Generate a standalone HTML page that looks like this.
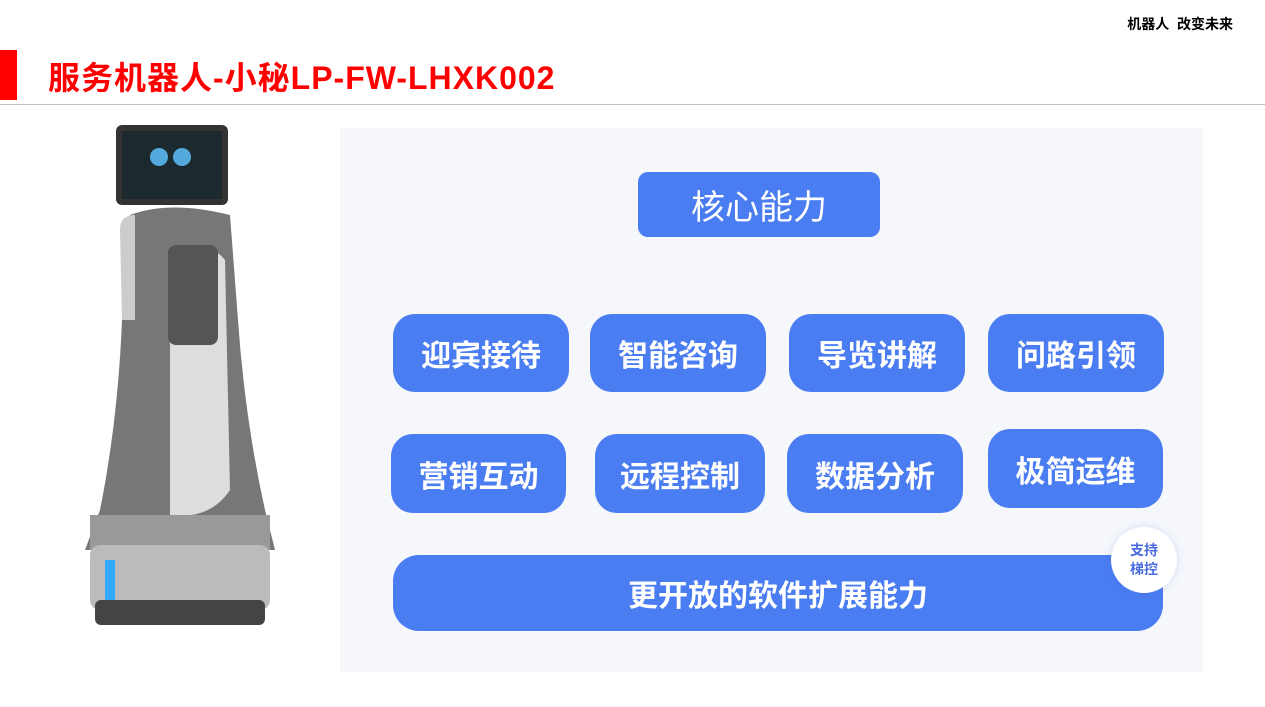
<!DOCTYPE html>
<html><head><meta charset="utf-8"><style>
*{margin:0;padding:0;box-sizing:border-box}
body{width:1265px;height:707px;background:#fff;position:relative;overflow:hidden;font-family:"Liberation Sans","Noto Sans CJK SC",sans-serif}
.a{position:absolute}
.p{position:absolute;background:#4a7cf2;color:#fff;border-radius:22px;display:flex;align-items:center;justify-content:center;font-size:30px;font-weight:bold}
</style></head><body>
<div class="a" style="right:32px;top:14px;font-size:14px;font-weight:bold;color:#000">机器人&nbsp; 改变未来</div>
<div class="a" style="left:0;top:50px;width:17px;height:50px;background:#f00"></div>
<div class="a" style="left:48px;top:58px;font-size:32px;font-weight:bold;color:#f00;line-height:40px;letter-spacing:1px">服务机器人-小秘LP-FW-LHXK002</div>
<div class="a" style="left:0;top:104px;width:1265px;height:1px;background:#c0c0c0"></div>
<!-- robot -->
<svg class="a" style="left:60px;top:120px" width="240" height="560">
<rect x="56" y="5" width="112" height="80" rx="6" fill="#333"/>
<rect x="62" y="11" width="100" height="68" fill="#1c2a30"/>
<circle cx="99" cy="37" r="9" fill="#5ad"/><circle cx="122" cy="37" r="9" fill="#5ad"/>
<path d="M70 95 Q110 80 170 95 L178 200 Q185 300 205 390 L215 430 L25 430 L40 390 Q58 300 62 200 Z" fill="#777"/>
<path d="M110 130 Q150 120 165 140 L170 370 Q150 400 110 395 Z" fill="#ddd"/>
<rect x="108" y="125" width="50" height="100" rx="8" fill="#555"/>
<path d="M60 110 Q60 95 75 95 L75 200 L62 200 Z" fill="#ccc"/>
<path d="M30 395 L210 395 L210 430 Q120 445 30 430 Z" fill="#999"/>
<rect x="30" y="425" width="180" height="65" rx="10" fill="#bbb"/>
<rect x="35" y="480" width="170" height="25" rx="6" fill="#444"/>
<rect x="45" y="440" width="10" height="40" fill="#3af"/>
</svg>
<div class="a" style="left:340px;top:128px;width:863px;height:544px;background:#f5f7fb"></div>
<div class="p" style="left:638px;top:172px;width:242px;height:65px;border-radius:10px;font-weight:normal;font-size:34px">核心能力</div>
<div class="p" style="left:393px;top:314px;width:176px;height:78px">迎宾接待</div>
<div class="p" style="left:590px;top:314px;width:176px;height:78px">智能咨询</div>
<div class="p" style="left:789px;top:314px;width:176px;height:78px">导览讲解</div>
<div class="p" style="left:988px;top:314px;width:176px;height:78px">问路引领</div>
<div class="p" style="left:391px;top:434px;width:175px;height:79px">营销互动</div>
<div class="p" style="left:595px;top:434px;width:170px;height:79px">远程控制</div>
<div class="p" style="left:787px;top:434px;width:176px;height:79px">数据分析</div>
<div class="p" style="left:988px;top:429px;width:175px;height:79px">极简运维</div>
<div class="p" style="left:393px;top:555px;width:770px;height:76px;border-radius:26px">更开放的软件扩展能力</div>
<div class="a" style="left:1111px;top:527px;width:66px;height:66px;border-radius:50%;background:#fff;box-shadow:0 0 8px rgba(80,110,200,.2);color:#4a6be0;font-size:14px;font-weight:bold;display:flex;align-items:center;justify-content:center;text-align:center;line-height:19px">支持<br>梯控</div>
</body></html>
